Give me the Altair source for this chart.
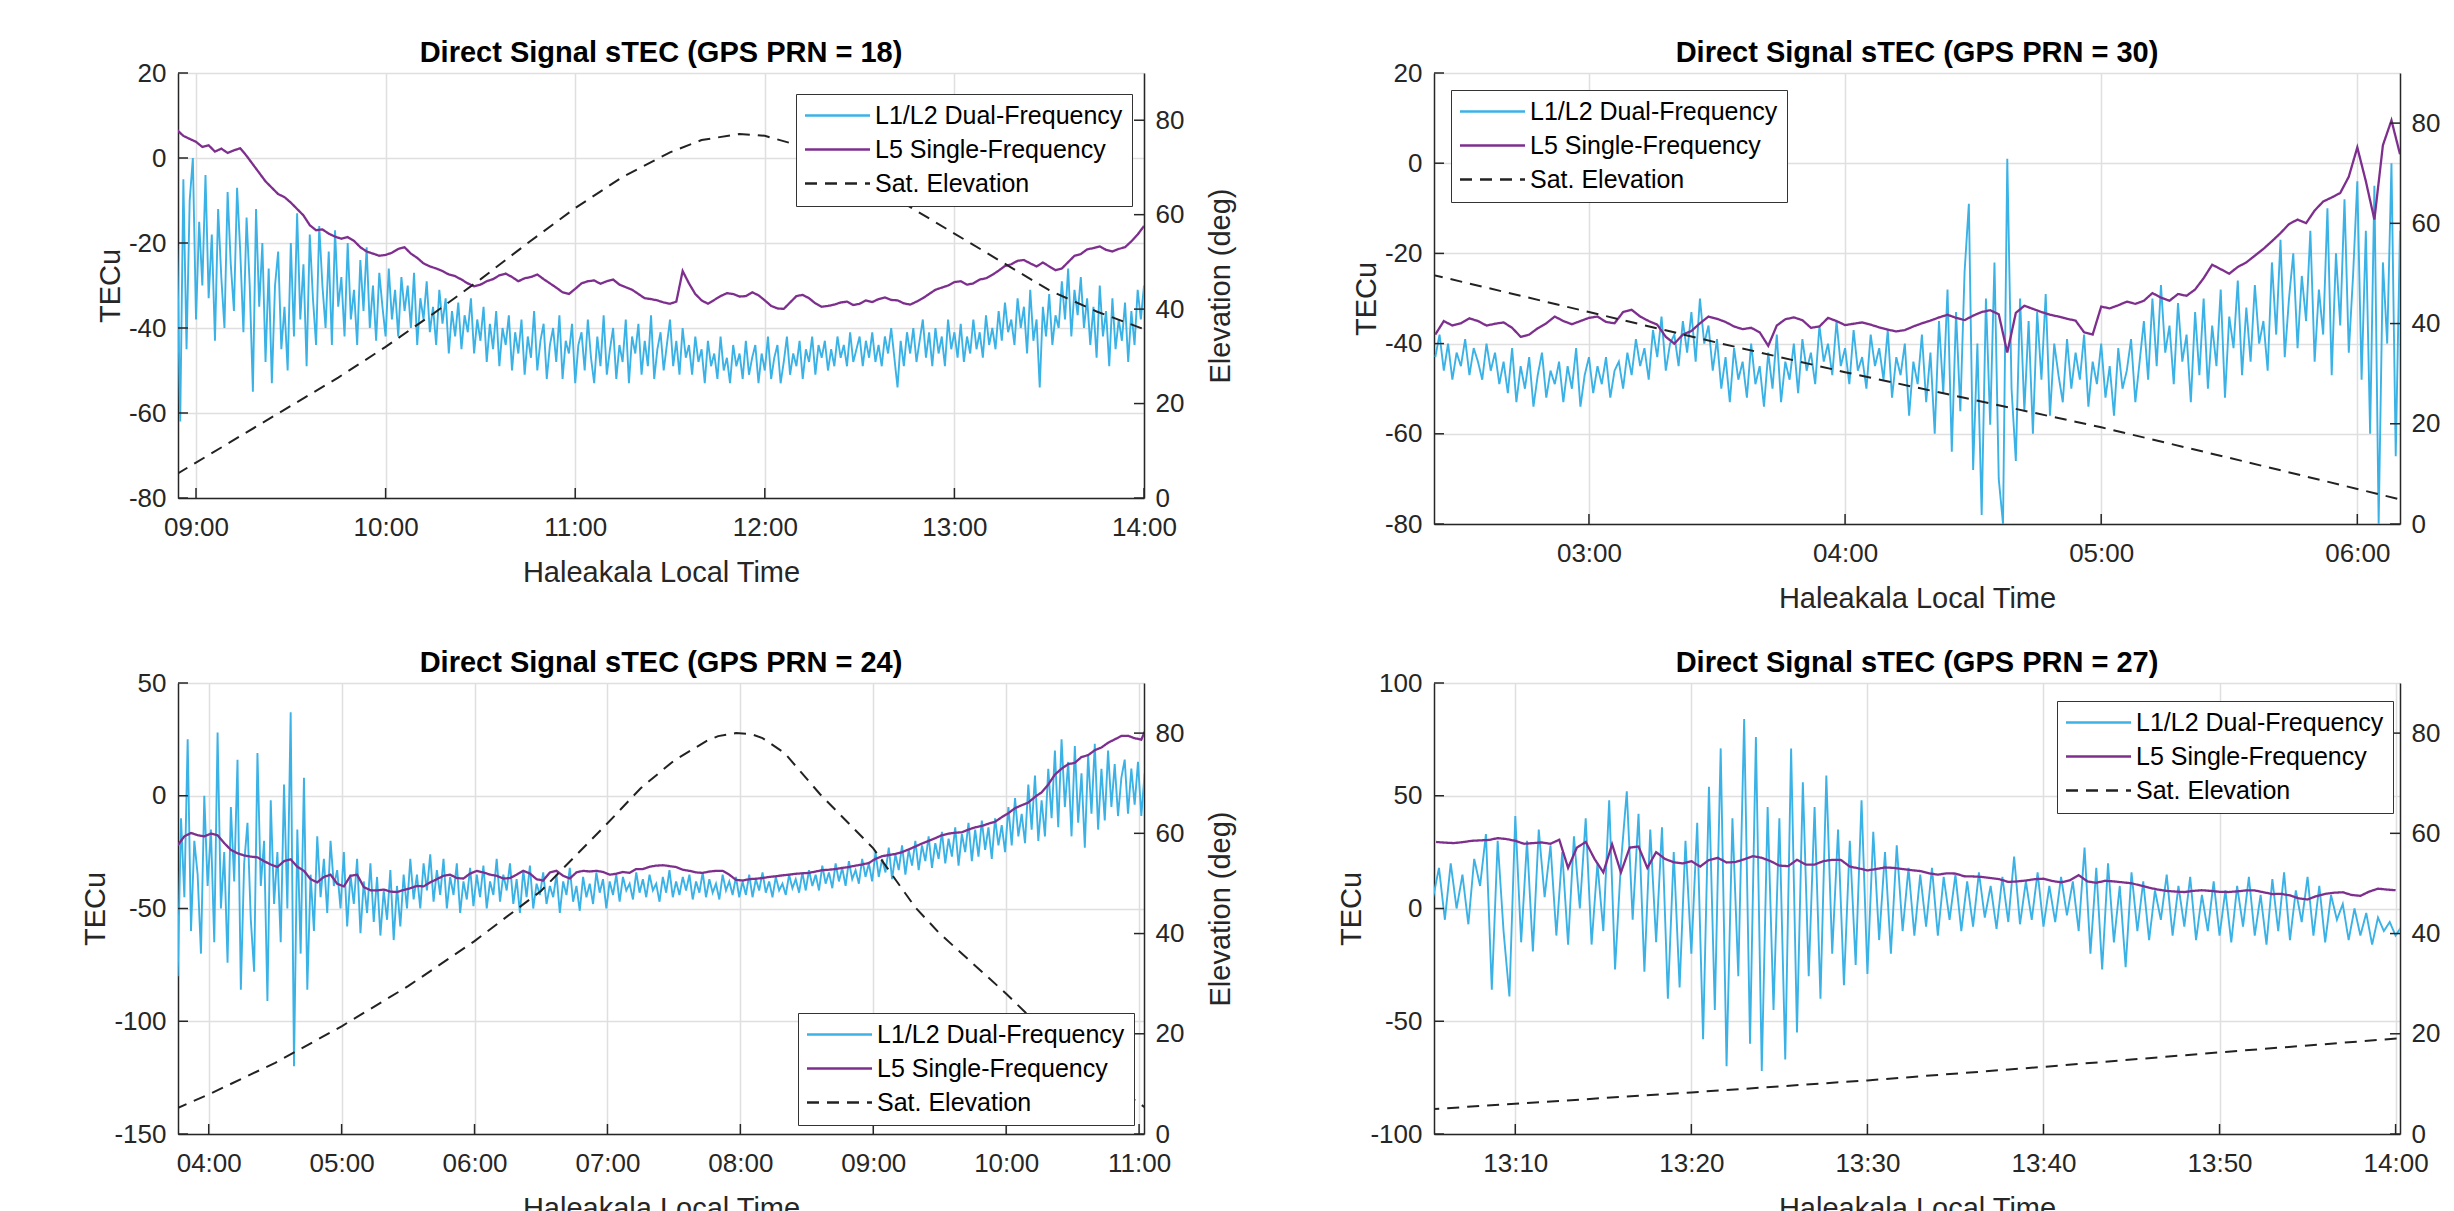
import altair as alt
import pandas as pd

FONT = "Liberation Sans"
SERIES = ["L1/L2 Dual-Frequency", "L5 Single-Frequency", "Sat. Elevation"]
COLORS = ["#3BB2E6", "#7E2F8E", "#222222"]
DASHES = [[1, 0], [1, 0], [12, 8]]
ELEV_TICKS = [0, 20, 40, 60, 80]
AXIS_INK = "#262626"
LEGEND_LINE = "M-1.25,0L5.25,0"

# ---------------- PRN 18 ----------------
p18_title = "Direct Signal sTEC (GPS PRN = 18)"
p18_domain = ["08:54:18", "14:00:00"]
p18_xticks = ["09:00", "10:00", "11:00", "12:00", "13:00", "14:00"]
p18_ydomain = [-80, 20]
p18_yticks = [-80, -60, -40, -20, 0, 20]
p18_l1l2_start, p18_l1l2_step = "08:54:00", "1min"
p18_l1l2 = [
    -20, -62, -5, -45, -10, 0, -38, -15, -30, -4,
    -33, -18, -43, -12, -28, -40, -8, -25, -36, -7,
    -22, -41, -14, -30, -55, -12, -35, -20, -48, -26,
    -53, -30, -22, -45, -35, -50, -20, -42, -13, -38,
    -25, -49, -18, -33, -44, -16, -30, -40, -22, -44,
    -17, -35, -28, -42, -20, -38, -31, -44, -24, -36,
    -21, -40, -30, -43, -27, -35, -42, -26, -38, -31,
    -42, -28, -36, -30, -40, -27, -44, -33, -38, -29,
    -41, -35, -44, -31, -39, -33, -46, -36, -42, -34,
    -45, -37, -41, -33, -46, -38, -43, -35, -48, -39,
    -45, -36, -49, -40, -44, -37, -50, -41, -46, -38,
    -51, -42, -47, -36, -50, -43, -39, -52, -44, -40,
    -48, -37, -52, -43, -46, -39, -53, -44, -41, -50,
    -38, -47, -53, -42, -49, -37, -51, -45, -40, -52,
    -44, -48, -38, -53, -42, -46, -39, -51, -43, -49,
    -37, -52, -45, -41, -50, -44, -38, -49, -43, -51,
    -40, -47, -44, -51, -42, -48, -45, -53, -43, -49,
    -46, -52, -42, -50, -47, -53, -44, -49, -46, -52,
    -43, -51, -47, -44, -53, -46, -50, -42, -52, -47,
    -44, -53, -48, -42, -51, -46, -49, -43, -52, -45,
    -48, -42, -51, -44, -47, -43, -50, -45, -49, -42,
    -47, -44, -49, -41, -48, -45, -42, -49, -43, -47,
    -41, -48, -44, -49, -42, -46, -40, -47, -54, -43,
    -49, -41, -46, -40, -48, -43, -38, -47, -41, -49,
    -40, -46, -42, -49, -38, -45, -41, -47, -39, -48,
    -42, -46, -38, -45, -41, -47, -37, -44, -40, -45,
    -36, -43, -34, -41, -38, -44, -33, -40, -35, -46,
    -31, -43, -38, -54, -35, -42, -32, -44, -37, -40,
    -29, -38, -26, -42, -31, -37, -28, -40, -33, -44,
    -35, -47, -30, -42, -36, -49, -33, -45, -38, -43,
    -34, -48, -36, -44, -31, -38, -30,
]
p18_l5_start, p18_l5_step = "08:54:00", "2min"
p18_l5 = [
    6.6, 5.2, 4.5, 3.8, 2.6, 3, 1.5, 2.2, 1.2, 1.8,
    2.3, 0.5, -1.5, -3.5, -5.5, -7, -8.5, -9.2, -10.5, -12,
    -13.5, -15.8, -17, -16.8, -17.8, -18.5, -19, -18.6, -19.5, -21,
    -22, -22.5, -23, -22.8, -22.3, -21.4, -21, -22.5, -23.5, -24.8,
    -25.5, -26, -26.6, -27.4, -27.8, -28.6, -29.5, -30.2, -29.8, -29,
    -28.5, -27.6, -27.2, -28, -29, -28.3, -28, -27.4, -28.5, -29.5,
    -30.5, -31.6, -32, -30.8, -29.5, -29, -28.8, -29.6, -29, -28.6,
    -29.8, -30.4, -31, -32, -33, -33.2, -33.5, -34, -34.3, -33.8,
    -26.6, -29.5, -32, -33.5, -34.3, -33.4, -32.5, -31.8, -32, -32.6,
    -32.5, -31.6, -32.3, -33.5, -34.8, -35.4, -35.5, -34, -32.5, -32.2,
    -33, -34.2, -35, -34.8, -34.5, -34, -33.8, -34.6, -34.3, -33.5,
    -33.9, -33.2, -32.8, -33.4, -33.5, -34.2, -34.5, -33.8, -33, -32,
    -31, -30.5, -30, -29.2, -29, -29.8, -29.5, -28.6, -28.3, -27.5,
    -26.5, -25.4, -25, -24.2, -24, -24.8, -25.5, -24.6, -25.5, -26.4,
    -26, -24.5, -23, -22.6, -21.5, -21.2, -20.8, -21.6, -22, -21.4,
    -21, -19.6, -18, -16,
]
p18_elev_times = ["08:54", "09:00", "09:15", "09:30", "09:45", "10:00", "10:15", "10:30",
                  "10:45", "11:00", "11:15", "11:30", "11:40", "11:52", "12:00", "12:10",
                  "12:20", "12:30", "12:45", "13:00", "13:15", "13:30", "13:45", "14:01"]
p18_elev = [5.1, 7.5, 13.5, 19.5, 25.5, 32, 39, 46.3,
            54, 61.4, 68, 73.2, 75.8, 77.1, 76.7, 74.8,
            72, 68, 62, 56, 50, 44, 39.5, 35.5]
p18_legend_xy = [618, 21]

# ---------------- PRN 30 ----------------
p30_title = "Direct Signal sTEC (GPS PRN = 30)"
p30_domain = ["02:23:42", "06:10:00"]
p30_xticks = ["03:00", "04:00", "05:00", "06:00"]
p30_ydomain = [-80, 20]
p30_yticks = [-80, -60, -40, -20, 0, 20]
p30_l1l2_start, p30_l1l2_step = "02:24:00", "1min"
p30_l1l2 = [
    -43, -38, -46, -40, -48, -42, -45, -39, -47, -41,
    -44, -48, -40, -46, -42, -49, -44, -51, -41, -53,
    -45, -50, -43, -54, -47, -42, -52, -46, -49, -44,
    -53, -45, -50, -41, -54, -47, -43, -51, -45, -49,
    -43, -52, -46, -44, -50, -42, -47, -39, -45, -41,
    -48, -37, -43, -34, -46, -40, -38, -45, -35, -42,
    -33, -44, -30, -40, -36, -46, -39, -50, -43, -53,
    -41, -48, -44, -52, -40, -49, -45, -54, -42, -50,
    -38, -53, -44, -48, -40, -51, -39, -46, -42, -49,
    -36, -44, -40, -47, -35, -45, -41, -49, -37, -46,
    -43, -50, -38, -45, -41, -48, -37, -52, -43, -47,
    -40, -56, -44, -49, -38, -53, -42, -60, -35, -51,
    -28, -64, -33, -55, -24, -9, -68, -40, -78, -30,
    -58, -22, -70, -80, 1, -50, -66, -30, -55, -35,
    -60, -33, -48, -29, -56, -40, -47, -53, -39, -50,
    -42, -48, -38, -54, -44, -49, -40, -52, -45, -56,
    -41, -50, -46, -39, -53, -44, -35, -48, -30, -45,
    -27, -42, -36, -49, -31, -44, -38, -53, -33, -47,
    -30, -50, -36, -45, -28, -52, -34, -41, -26, -47,
    -32, -44, -27, -40, -35, -46, -22, -38, -17, -43,
    -30, -20, -41, -25, -35, -15, -44, -28, -38, -10,
    -47, -20, -36, -8, -42, -25, -4, -48, -15, -60,
    -5, -80, -22, -40, 0, -65, -15,
]
p30_l5_start, p30_l5_step = "02:24:00", "2min"
p30_l5 = [
    -38, -35, -36, -35.5, -34.4, -35, -36, -35.6, -35.3, -36.5,
    -38.5, -38, -36.6, -35.5, -34, -35, -35.7, -35, -34.3, -34,
    -35.2, -35.5, -33, -32.5, -34, -35, -35.8, -38.5, -40, -38,
    -37.2, -35.5, -34, -34.5, -35.2, -36.2, -36.8, -36.5, -37.5, -40.5,
    -36, -34.6, -34.2, -34.8, -36.5, -36.2, -34.3, -35, -35.9, -35.6,
    -35.3, -35.8, -36.4, -36.9, -37.3, -37, -36.2, -35.5, -34.9, -34.2,
    -33.6, -34.3, -34.8, -33.8, -33, -32.6, -33.5, -42, -33.2, -31.6,
    -32.3, -33, -33.6, -34, -34.5, -34.9, -37.5, -38, -31.8, -32.2,
    -31.5, -30.7, -31.2, -30.5, -28.8, -29.8, -30.5, -29, -29.4, -28,
    -25.5, -22.5, -23.5, -24.5, -23, -22, -20.5, -19, -17.3, -15.5,
    -13.5, -12.5, -13.3, -10.5, -8.5, -7.6, -6.6, -3, 3.5, -4,
    -12.5, 4, 9.5, 2,
]
p30_elev_times = ["02:23", "03:00", "03:30", "04:00", "04:30", "05:00", "05:30", "06:00", "06:11"]
p30_elev = [49.8, 42.3, 36.2, 30.3, 24.8, 19.3, 13.2, 7.0, 4.7]
p30_legend_xy = [17, 17]

# ---------------- PRN 24 ----------------
p24_title = "Direct Signal sTEC (GPS PRN = 24)"
p24_domain = ["03:46:08", "11:02:13"]
p24_xticks = ["04:00", "05:00", "06:00", "07:00", "08:00", "09:00", "10:00", "11:00"]
p24_ydomain = [-150, 50]
p24_yticks = [-150, -100, -50, 0, 50]
p24_l1l2_start, p24_l1l2_step = "03:46:00", "90s"
p24_l1l2 = [
    -80, -10, -45, 25, -60, -20, -35, -70, 0, -40,
    -15, -65, 28, -50, -25, -74, -5, -38, 16, -86,
    -30, -12, -55, -78, 19, -40, -20, -91, -2, -48,
    -25, -65, 5, -50, 37, -120, -15, -70, 8, -86,
    -35, -60, -18, -45, -28, -52, -20, -40, -33, -50,
    -25, -58, -35, -48, -28, -61, -38, -52, -30, -56,
    -36, -62, -42, -55, -33, -64, -40, -58, -35, -50,
    -28, -46, -35, -50, -30, -42, -26, -47, -33, -44,
    -28, -50, -36, -44, -30, -52, -38, -46, -32, -49,
    -35, -45, -31, -50, -38, -44, -28, -47, -35, -42,
    -30, -48, -37, -52, -33, -45, -31, -50, -39, -44,
    -34, -48, -40, -45, -35, -52, -38, -44, -32, -47,
    -40, -51, -36, -45, -39, -48, -34, -43, -37, -50,
    -38, -44, -35, -47, -36, -42, -39, -46, -34, -43,
    -37, -45, -35, -42, -39, -47, -36, -43, -33, -45,
    -38, -44, -36, -42, -35, -46, -38, -43, -34, -45,
    -37, -43, -39, -46, -35, -42, -38, -44, -36, -45,
    -38, -44, -35, -45, -37, -42, -34, -43, -38, -45,
    -36, -42, -39, -44, -35, -41, -37, -43, -34, -42,
    -33, -40, -35, -42, -31, -39, -34, -41, -30, -38,
    -32, -40, -29, -37, -33, -39, -28, -36, -30, -38,
    -25, -36, -28, -34, -23, -37, -26, -33, -22, -35,
    -24, -31, -20, -33, -22, -29, -18, -32, -21, -28,
    -16, -30, -19, -27, -14, -31, -17, -25, -12, -29,
    -15, -27, -11, -24, -14, -28, -10, -22, -13, -25,
    -5, -22, -1, -18, -8, -21, 5, -15, 9, -20,
    -2, -18, 12, -10, 20, -14, 25, -5, 15, -18,
    22, -12, 10, -23, 18, -8, 23, -15, 12, -11,
    20, -5, 14, -9, 8, 16, -8, 12, -4, 15,
    -9, 10,
]
p24_l5_start, p24_l5_step = "03:46:00", "3min"
p24_l5 = [
    -22, -18, -16.5, -17.5, -18, -16.8, -17.5, -21, -24, -25.5,
    -26.5, -27, -27.3, -29, -30.5, -31.6, -29, -28.2, -31.5, -33.3,
    -37, -38.4, -36, -35, -39, -40.2, -35.5, -35, -40.5, -41.9,
    -42, -41.6, -42.5, -42.7, -41.8, -41, -40, -40.2, -38.4, -37,
    -35.5, -35, -36.5, -36.7, -34.5, -33.3, -34, -35, -35.5, -36.7,
    -36.5, -35, -33.3, -34.5, -37, -37.6, -34, -33.3, -35.5, -36.7,
    -34, -33.3, -33.6, -33.3, -33.8, -35, -34.6, -33.8, -34.2, -32.5,
    -32.5, -31.5, -31, -30.8, -31.2, -31.6, -32.8, -33.3, -34, -34.2,
    -33.6, -33.3, -33.3, -35, -37.3, -37.6, -37, -36.8, -36.5, -36,
    -35.7, -35.3, -35, -34.6, -34.4, -34.2, -33.6, -33, -32.8, -32.5,
    -32, -31.6, -31, -30.5, -29.8, -28, -26.8, -26.3, -25.8, -25,
    -23.8, -22.5, -21.2, -20, -18.8, -17.5, -16.8, -16.4, -16.2, -15,
    -14, -13.4, -12.4, -11.5, -9.5, -7.7, -5.5, -4.2, -3, -0.5,
    1.5, 5, 9.4, 12, 14, 14.6, 17.2, 18, 20.2, 21.4,
    23.5, 25, 26.5, 26.6, 25.5, 24.9, 31.7,
]
p24_elev_times = ["03:45", "04:00", "04:30", "05:00", "05:30", "06:00", "06:30", "07:00",
                  "07:15", "07:30", "07:45", "07:50", "07:58", "08:05", "08:10", "08:20",
                  "08:36", "09:00", "09:19", "09:30", "10:00", "10:13", "10:30", "11:03"]
p24_elev = [5.0, 7.9, 14.2, 21.5, 29.5, 38.5, 48.5, 62,
            69, 74.5, 78.5, 79.4, 80, 79.8, 79, 76,
            67.8, 57, 45.2, 40, 28, 22.4, 15.5, 5.2]
p24_legend_xy = [620, 330]

# ---------------- PRN 27 ----------------
p27_title = "Direct Signal sTEC (GPS PRN = 27)"
p27_domain = ["13:05:23", "14:00:15"]
p27_xticks = ["13:10", "13:20", "13:30", "13:40", "13:50", "14:00"]
p27_ydomain = [-100, 100]
p27_yticks = [-100, -50, 0, 50, 100]
p27_l1l2_start, p27_l1l2_step = "13:05:20", "20s"
p27_l1l2 = [
    5, 18, -5, 20, 0, 15, -7, 22, 10, 33, -36, 30, -10, -39,
    41, -15, 30, -19, 35, 5, 28, -12, 25, -16, 32, 0, 40, -16, 20,
    -10, 48, -27, 20, 52, -5, 42, -28, 35, -15, 36, -40, 25, -35, 30,
    -20, 38, -58, 54, -45, 71, -70, 40, -30, 84, -60, 76, -72, 45, -45,
    40, -67, 71, -55, 56, -30, 45, -40, 59, -20, 35, -34, 30, -25, 48,
    -29, 34, -14, 25, -20, 28, -10, 18, -12, 15, -8, 18, -12, 14, -5,
    15, -10, 12, -8, 16, -4, 10, -9, 14, -6, 23, -7, 12, -5, 16,
    -8, 10, -6, 14, -3, 12, -10, 27, -20, 18, -27, 20, -15, 10, -26,
    16, -10, 12, -14, 8, -5, 15, -12, 10, -8, 14, -14, 6, -10, 12,
    -12, 8, -15, 10, -8, 14, -12, 6, -16, 13, -10, 16, -14, 8, -6,
    14, -12, 10, -15, 6, -5, 2, -14, 0, -12, -2, -16, -4, -10, -6, -12, -8,
]
p27_l5_start, p27_l5_step = "13:05:30", "30s"
p27_l5 = [
    29.5, 29.2, 29, 29.4, 30, 30.2, 30.4, 31.2, 30.8, 30,
    28.7, 29, 29.3, 28.7, 30.5, 18, 27, 29.5, 22, 16,
    28.5, 16, 27, 27.5, 18, 25, 22, 20.5, 20, 21,
    18.6, 21.5, 22.5, 20.4, 20.6, 21.8, 23.2, 22.5, 21, 19,
    18.8, 21.6, 19.5, 19.5, 21, 21.6, 21.5, 18.6, 17.8, 16.9,
    17.5, 18.2, 18, 17.5, 17, 16.6, 15.6, 15, 15.6, 15.5,
    14.3, 14.2, 14, 13.5, 13, 11.8, 12, 12.4, 13, 13.2,
    12.2, 11.6, 12.5, 14.8, 12, 11.4, 12.3, 12, 11.6, 11.2,
    10.2, 9.2, 8.4, 7.8, 7.5, 7.3, 7.8, 8.1, 7.8, 7.4,
    7.3, 7.6, 8, 8, 7.2, 6.4, 6.5, 5.8, 4.5, 4,
    5.5, 6.5, 7, 7.2, 6, 5.6, 7.5, 8.8, 8.4, 8.1,
]
p27_elev_times = ["13:05", "13:20", "13:30", "13:40", "13:50", "14:01"]
p27_elev = [4.9, 8.3, 10.7, 13.4, 16.3, 19.3]
p27_legend_xy = [623, 18]


def hms_parts(s):
    p = [int(v) for v in s.split(":")]
    while len(p) < 3:
        p.append(0)
    return p


def iso(s):
    h, m, sec = hms_parts(s)
    return f"2024-03-15T{h:02d}:{m:02d}:{sec:02d}"


def dt(s):
    h, m, sec = hms_parts(s)
    return alt.DateTime(year=2024, month=3, date=15, hours=h, minutes=m, seconds=sec)


def regular_df(start, step, values, name):
    t = pd.date_range(start=iso(start), periods=len(values), freq=step)
    return pd.DataFrame({"t": t.strftime("%Y-%m-%dT%H:%M:%S"), "v": values, "series": name})


def listed_df(times, values, name):
    return pd.DataFrame({"t": [iso(x) for x in times], "v": values, "series": name})


def panel(title, domain, xticks, ydomain, yticks, l1l2, l5, elev, legend_xy,
          width, height, elev_title):
    x = alt.X("t:T",
              scale=alt.Scale(domain=[dt(domain[0]), dt(domain[1])], nice=False),
              axis=alt.Axis(values=[dt(v) for v in xticks], format="%H:%M",
                            title="Haleakala Local Time", grid=True))
    y = alt.Y("v:Q", scale=alt.Scale(domain=ydomain, nice=False, zero=False),
              axis=alt.Axis(values=yticks, title="TECu", grid=True, orient="left",
                            labelExpr="'' + datum.value"))
    eopts = dict(values=ELEV_TICKS, grid=False, orient="right")
    if elev_title:
        eaxis = alt.Axis(title="Elevation (deg)", **eopts)
    else:
        eaxis = alt.Axis(title=None, **eopts)
    e = alt.Y("v:Q", scale=alt.Scale(domain=[0, 90], nice=False, zero=False), axis=eaxis)
    legend = alt.Legend(title=None, orient="none", legendX=legend_xy[0], legendY=legend_xy[1],
                        symbolType=LEGEND_LINE, symbolSize=400, symbolStrokeWidth=2.4,
                        labelOffset=45, labelFont=FONT, labelFontSize=25, labelColor="#000000",
                        labelLimit=500, padding=9, rowPadding=8,
                        strokeColor="#333333", fillColor="#FFFFFF")
    color = alt.Color("series:N", scale=alt.Scale(domain=SERIES, range=COLORS), legend=legend)
    dash = alt.StrokeDash("series:N", scale=alt.Scale(domain=SERIES, range=DASHES), legend=legend)

    blue = alt.Chart(l1l2).mark_line(clip=True, strokeWidth=1.9).encode(
        x=x, y=y, color=color, strokeDash=dash)
    purple = alt.Chart(l5).mark_line(clip=True, strokeWidth=2.3).encode(
        x=x, y=y, color=color, strokeDash=dash)
    ytk = alt.Chart(pd.DataFrame({"v": yticks})).mark_rule(color=AXIS_INK, strokeWidth=1.5).encode(
        y=y, x=alt.value(0), x2=alt.value(10))
    sat = alt.Chart(elev).mark_line(clip=True, strokeWidth=2).encode(
        x=x, y=e, color=color, strokeDash=dash)
    etk = alt.Chart(pd.DataFrame({"v": ELEV_TICKS})).mark_rule(color=AXIS_INK, strokeWidth=1.5).encode(
        y=e, x=alt.value(width - 10), x2=alt.value(width))
    xtk = alt.Chart(pd.DataFrame({"t": [iso(v) for v in xticks]})).mark_rule(
        color=AXIS_INK, strokeWidth=1.5).encode(x=x, y=alt.value(height), y2=alt.value(height - 10))

    left = alt.layer(blue, purple, ytk)
    right = alt.layer(sat, etk)
    return alt.layer(left, right, xtk).resolve_scale(y="independent").properties(
        width=width, height=height, title=title)


W = 966
c18 = panel(p18_title, p18_domain, p18_xticks, p18_ydomain, p18_yticks,
            regular_df(p18_l1l2_start, p18_l1l2_step, p18_l1l2, SERIES[0]),
            regular_df(p18_l5_start, p18_l5_step, p18_l5, SERIES[1]),
            listed_df(p18_elev_times, p18_elev, SERIES[2]),
            p18_legend_xy, W, 425, True)
c30 = panel(p30_title, p30_domain, p30_xticks, p30_ydomain, p30_yticks,
            regular_df(p30_l1l2_start, p30_l1l2_step, p30_l1l2, SERIES[0]),
            regular_df(p30_l5_start, p30_l5_step, p30_l5, SERIES[1]),
            listed_df(p30_elev_times, p30_elev, SERIES[2]),
            p30_legend_xy, W, 451, False)
c24 = panel(p24_title, p24_domain, p24_xticks, p24_ydomain, p24_yticks,
            regular_df(p24_l1l2_start, p24_l1l2_step, p24_l1l2, SERIES[0]),
            regular_df(p24_l5_start, p24_l5_step, p24_l5, SERIES[1]),
            listed_df(p24_elev_times, p24_elev, SERIES[2]),
            p24_legend_xy, W, 451, True)
c27 = panel(p27_title, p27_domain, p27_xticks, p27_ydomain, p27_yticks,
            regular_df(p27_l1l2_start, p27_l1l2_step, p27_l1l2, SERIES[0]),
            regular_df(p27_l5_start, p27_l5_step, p27_l5, SERIES[1]),
            listed_df(p27_elev_times, p27_elev, SERIES[2]),
            p27_legend_xy, W, 451, False)

chart = alt.concat(c18, c30, c24, c27, columns=2,
                   spacing={"row": 159, "column": 290}, bounds="flush").resolve_scale(
    color="independent", strokeDash="independent").resolve_legend(
    color="independent", strokeDash="independent").properties(
    padding={"left": 81, "top": 39, "right": 5, "bottom": 0}
).configure_view(strokeWidth=0).configure_axis(
    labelFont=FONT, labelFontSize=26, labelColor=AXIS_INK,
    titleFont=FONT, titleFontSize=29, titleFontWeight="normal", titleColor=AXIS_INK,
    domainColor=AXIS_INK, domainWidth=1.5, gridColor="#DFDFDF", gridWidth=1.5,
    ticks=False, tickSize=0, labelFlush=False
).configure_axisBottom(labelPadding=16, titlePadding=18
).configure_axisLeft(labelPadding=12, titlePadding=3
).configure_axisRight(labelPadding=11, titlePadding=23, titleAngle=270, titleBaseline="top"
).configure_title(font=FONT, fontSize=29, fontWeight="bold", color="#000000",
                  anchor="middle", offset=-8, frame="group", baseline="alphabetic")

chart.save("out.html", embed_options={"renderer": "svg", "actions": False})
